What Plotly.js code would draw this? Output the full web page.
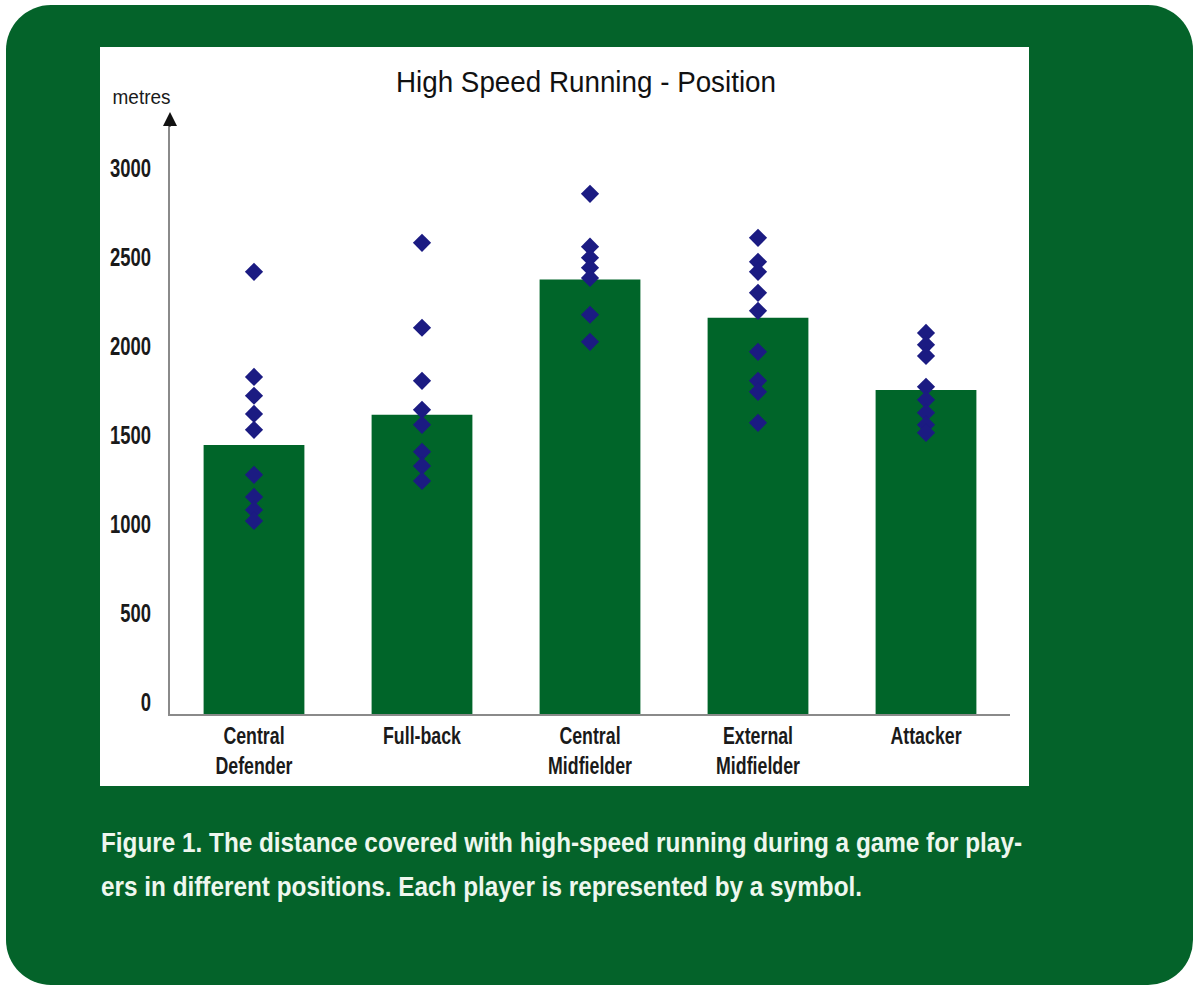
<!DOCTYPE html>
<html><head><meta charset="utf-8">
<script src="https://cdn.plot.ly/plotly-3.0.1.min.js"></script>
<style>
html,body{margin:0;padding:0;background:#fff;width:1193px;height:988px;overflow:hidden}
#frame{position:absolute;left:6px;top:5px;width:1187px;height:980px;background:#04632a;border-radius:45px}
#chart{position:absolute;left:0;top:0;width:1193px;height:988px}
</style></head><body>
<div id="frame"></div><div id="chart"></div>
<script>
const categories = ["Central<br>Defender","Full-back","Central<br>Midfielder","External<br>Midfielder","Attacker"];
const barValues = [1510, 1680, 2440, 2225, 1820];
const centralDefender = [2483, 1893, 1787, 1685, 1596, 1343, 1219, 1146, 1084];
const fullBack = [2646, 2169, 1871, 1708, 1624, 1472, 1393, 1309];
const centralMidfielder = [2921, 2624, 2562, 2506, 2449, 2242, 2090];
const externalMidfielder = [2674, 2539, 2483, 2365, 2264, 2034, 1871, 1809, 1635];
const attacker = [2140, 2073, 2011, 1837, 1764, 1691, 1624, 1579];
const yTicks = [0, 500, 1000, 1500, 2000, 2500, 3000];
const titleText = "High Speed Running - Position";
const yLabel = "metres";
const caption1 = "Figure 1. The distance covered with high-speed running during a game for play-";
const caption2 = "ers in different positions. Each player is represented by a symbol.";

const players = [centralDefender, fullBack, centralMidfielder, externalMidfielder, attacker];
const px = [], py = [];
players.forEach((arr, i) => arr.forEach(v => { px.push(categories[i]); py.push(v); }));

const W = 1193, H = 988;
const FONT = "'Liberation Sans', Arial, Helvetica, sans-serif";

const data = [
  {type: 'bar', x: categories, y: barValues, width: 0.6,
   marker: {color: '#006529', line: {width: 0}}, hoverinfo: 'skip'},
  {type: 'scatter', mode: 'markers', x: px, y: py, cliponaxis: false,
   marker: {symbol: 'diamond', size: 14, color: '#1b1b82', line: {width: 0}}, hoverinfo: 'skip'}
];

const layout = {
  width: W, height: H,
  margin: {l: 0, r: 0, t: 0, b: 0},
  paper_bgcolor: 'rgba(0,0,0,0)',
  plot_bgcolor: 'rgba(0,0,0,0)',
  showlegend: false,
  title: {text: titleText, x: 586 / W, xanchor: 'center', y: 1 - 82 / H, yanchor: 'middle',
          font: {family: FONT, size: 29, color: '#111'}},
  xaxis: {
    domain: [170 / W, 1010 / W], anchor: 'y',
    type: 'category', range: [-0.5, 4.5],
    showline: true, linecolor: '#8a8a8a', linewidth: 2,
    showgrid: false, zeroline: false, ticks: '',
    tickfont: {family: FONT, size: 23, color: '#1a1a1a', weight: 'bold'}
  },
  yaxis: {
    domain: [1 - 714 / H, 1 - 121 / H], anchor: 'x',
    range: [0, 3330],
    showline: true, linecolor: '#8a8a8a', linewidth: 2,
    showgrid: false, zeroline: false, ticks: '',
    tickvals: yTicks, ticktext: yTicks.map(String),
    ticklabelshift: -12, ticklabelstandoff: 12,
    tickfont: {family: FONT, size: 25, color: '#1a1a1a', weight: 'bold'}
  },
  shapes: [
    {type: 'rect', xref: 'paper', yref: 'paper', layer: 'below',
     x0: 100 / W, x1: 1029 / W, y0: 1 - 786 / H, y1: 1 - 47 / H,
     fillcolor: '#ffffff', line: {width: 0}}
  ],
  annotations: [
    {xref: 'paper', yref: 'paper', x: 141 / W, y: 1 - 97 / H, xanchor: 'center', yanchor: 'middle',
     text: yLabel, showarrow: false, font: {family: FONT, size: 20, color: '#1a1a1a'}},
    {xref: 'paper', yref: 'paper', x: 170 / W, y: 1 - 112 / H, ax: 0, ay: 16, axref: 'pixel', ayref: 'pixel',
     text: '', showarrow: true, arrowhead: 2, arrowsize: 1.4, arrowwidth: 2, arrowcolor: '#111'},
    {xref: 'paper', yref: 'paper', x: 99 / W, y: 1 - 843 / H, xanchor: 'left', yanchor: 'middle', align: 'left',
     text: caption1, showarrow: false, font: {family: FONT, size: 27, color: '#eef7ee', weight: 'bold'}},
    {xref: 'paper', yref: 'paper', x: 99 / W, y: 1 - 887 / H, xanchor: 'left', yanchor: 'middle', align: 'left',
     text: caption2, showarrow: false, font: {family: FONT, size: 27, color: '#eef7ee', weight: 'bold'}}
  ]
};

function squeeze(el, k, target) {
  const lines = el.querySelectorAll('tspan.line');
  const parts = lines.length ? Array.from(lines) : [el];
  parts.forEach(t => {
    const w = t.getComputedTextLength();
    const len = target ? target : w * k;
    t.setAttribute('textLength', len.toFixed(1));
    t.setAttribute('lengthAdjust', 'spacingAndGlyphs');
  });
}
function widthOf(el) { return el.getComputedTextLength(); }

Plotly.newPlot('chart', data, layout, {displayModeBar: false, staticPlot: true}).then(() => {
  const yt = Array.from(document.querySelectorAll('#chart .ytick text'));
  const ref3000 = yt.find(e => e.textContent === '3000');
  const ky = ref3000 ? 41 / widthOf(ref3000) : 0.7;
  yt.forEach(el => squeeze(el, ky));
  const xt = Array.from(document.querySelectorAll('#chart .xtick text'));
  let kx = 0.78;
  xt.forEach(el => el.querySelectorAll('tspan.line').forEach(t => { if (t.textContent === 'Defender') kx = 77 / widthOf(t); }));
  xt.forEach(el => squeeze(el, kx));
  const t = document.querySelector('#chart .gtitle');
  if (t) squeeze(t, 1, 380);
  document.querySelectorAll('#chart .annotation-text').forEach(el => {
    const s = el.textContent;
    if (s === caption1) squeeze(el, 1, 921);
    else if (s === caption2) squeeze(el, 1, 761);
    else if (s === yLabel) squeeze(el, 1, 58);
  });
});
</script>
</body></html>
